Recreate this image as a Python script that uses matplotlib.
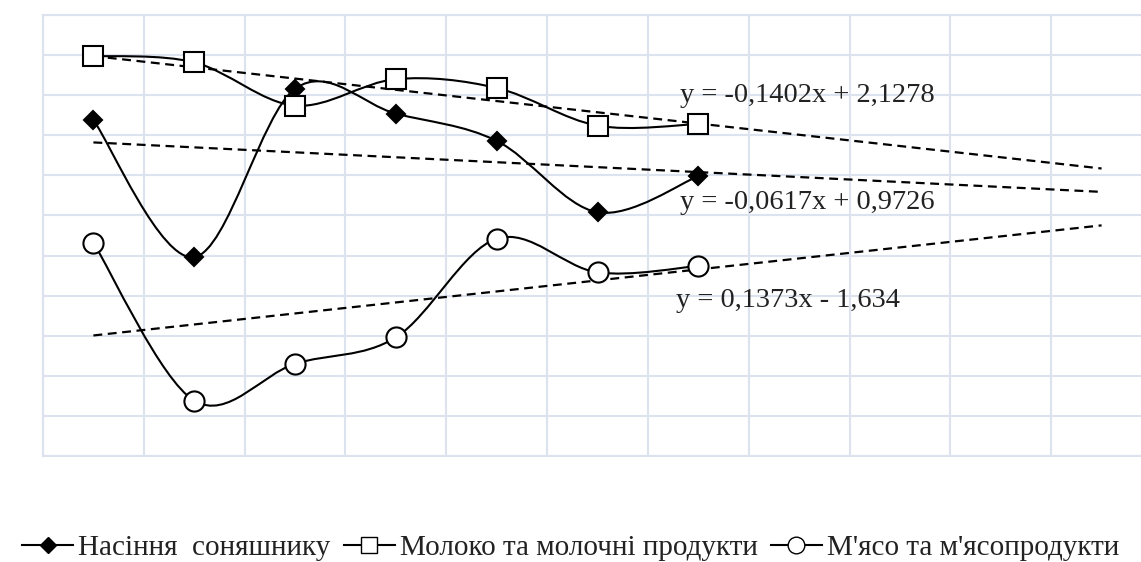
"""Smoothed product series with linear trend lines (Excel-style chart)."""

import numpy as np
import matplotlib
matplotlib.use("Agg")
import matplotlib.pyplot as plt
from matplotlib.path import Path
from matplotlib.patches import PathPatch
from matplotlib.lines import Line2D

periods = [1, 2, 3, 4, 5, 6, 7]
seeds = [1.19, -0.52, 1.58, 1.27, 0.93, 0.04, 0.49]
milk = [1.99, 1.91, 1.37, 1.70, 1.59, 1.12, 1.14]
meat = [-0.34, -2.31, -1.85, -1.52, -0.29, -0.71, -0.63]

labels = ["Насіння  соняшнику", "Молоко та молочні продукти", "М'ясо та м'ясопродукти"]
# trend line coefficients (slope, intercept) as printed on the chart
trends = {
    "seeds": (-0.0617, 0.9726),
    "milk": (-0.1402, 2.1278),
    "meat": (0.1373, -1.634),
}
trend_x = [1, 11]
eq_text = {
    "milk": "y = -0,1402x + 2,1278",
    "seeds": "y = -0,0617x + 0,9726",
    "meat": "y = 0,1373x - 1,634",
}
eq_pos = {"milk": (6.82, 1.49), "seeds": (6.82, 0.16), "meat": (6.78, -1.06)}

plt.rcParams["font.family"] = ["Liberation Serif", "DejaVu Serif"]

W, H = 1141, 562
fig = plt.figure(figsize=(W / 100, H / 100), dpi=100)
ax = fig.add_axes([43 / W, 1 - 456 / H, 1109 / W, 441 / H])
ax.set_xlim(0.5, 11.5)
ax.set_ylim(-3, 2.5)

grid_c = "#dce3ee"
ax.set_xticks(np.arange(0.5, 11.6, 1))
ax.set_yticks(np.arange(-3, 2.51, 0.5))
ax.grid(True, color=grid_c, linewidth=1.5)
ax.tick_params(length=0, labelbottom=False, labelleft=False)
for s in ax.spines.values():
    s.set_color(grid_c)
    s.set_linewidth(1.5)
ax.set_axisbelow(True)


def smooth_path(xs, ys):
    pts = np.column_stack([xs, ys]).astype(float)
    n = len(pts)
    verts = [pts[0]]
    codes = [Path.MOVETO]
    for i in range(n - 1):
        p0 = pts[max(i - 1, 0)]
        p1 = pts[i]
        p2 = pts[i + 1]
        p3 = pts[min(i + 2, n - 1)]
        c1 = p1 + (p2 - p0) / 6
        c2 = p2 - (p3 - p1) / 6
        verts += [c1, c2, p2]
        codes += [Path.CURVE4] * 3
    return Path(verts, codes)


series = [
    (seeds, "D", "black", 9.5),
    (milk, "s", "white", 14.5),
    (meat, "o", "white", 14.5),
]
for vals, mk, fc, ms in series:
    ax.add_patch(PathPatch(smooth_path(periods, vals), fill=False,
                           edgecolor="black", linewidth=1.5, zorder=3))
    ax.plot(periods, vals, linestyle="none", marker=mk, markersize=ms,
            markerfacecolor=fc, markeredgecolor="black", markeredgewidth=1.5,
            zorder=4)

for key, (k, b) in trends.items():
    tx = np.array(trend_x, dtype=float)
    ax.plot(tx, k * tx + b, linestyle=(0, (4, 2.5)), color="black",
            linewidth=1.6, zorder=2)
    ax.text(*eq_pos[key], eq_text[key], fontsize=20.5, va="center", ha="left",
            color="#222222", zorder=5)

handles = [
    Line2D([], [], color="black", lw=1.5, marker="D", markersize=8,
           markerfacecolor="black", markeredgecolor="black"),
    Line2D([], [], color="black", lw=1.5, marker="s", markersize=11,
           markerfacecolor="white", markeredgecolor="black"),
    Line2D([], [], color="black", lw=1.5, marker="o", markersize=12,
           markerfacecolor="white", markeredgecolor="black"),
]
fig.legend(handles, labels, loc="center", bbox_to_anchor=(0.5, 1 - 548 / H),
           ncol=3, frameon=False, fontsize=21, handlelength=1.75,
           handletextpad=0.17, columnspacing=0.45, borderpad=0,
           labelcolor="#222222")

fig.savefig("out.png", dpi=100)
